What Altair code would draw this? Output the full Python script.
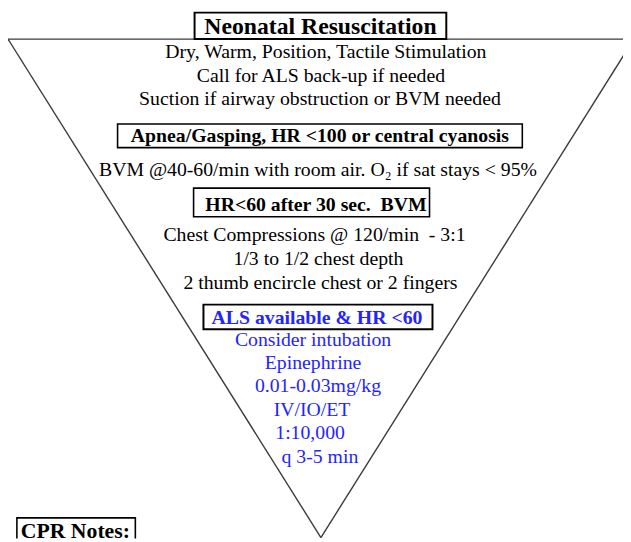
import altair as alt
import pandas as pd

# ---- content (diagram text) ----
title_text = ["Neonatal Resuscitation"]
bold_black = ["Apnea/Gasping, HR <100 or central cyanosis", "HR<60 after 30 sec.\u00a0 BVM"]
bold_blue = ["ALS available & HR <60"]
regular_black = [
    "Dry, Warm, Position, Tactile Stimulation",
    "Call for ALS back-up if needed",
    "Suction if airway obstruction or BVM needed",
    "BVM @40-60/min with room air. O\u2082 if sat stays < 95%",
    "Chest Compressions @ 120/min\u00a0 - 3:1",
    "1/3 to 1/2 chest depth",
    "2 thumb encircle chest or 2 fingers",
]
regular_blue = [
    "Consider intubation",
    "Epinephrine",
    "0.01-0.03mg/kg",
    "IV/IO/ET",
    "1:10,000",
    "q 3-5 min",
]
notes_text = ["CPR Notes:"]

# ---- layout (page pixel coordinates) ----
title_xy = [(324.5, 31)]
bold_black_xy = [(324, 140), (320, 210)]
bold_blue_xy = [(321, 325)]
regular_black_xy = [(330, 55), (325, 79), (324, 103), (322, 175),
                    (318.5, 241), (322.5, 265), (324.5, 289)]
regular_blue_xy = [(317, 347), (317, 370), (322, 394), (316, 418), (314, 441), (324, 465)]
notes_xy = [(21, 541)]

# triangle outline: corners
tri_x = [8, 325, 642]
tri_y = [36, 541, 36]

# boxes: x1, x2, y1, y2
box_x1 = [197, 119, 196, 206, 17]
box_x2 = [452, 529, 435, 438, 137]
box_y1 = [9, 122, 187, 305, 521]
box_y2 = [36, 146, 216, 330, 570]
box_w = [2.0, 1.6, 1.6, 2.0, 1.6]

X_DOM = [8, 631]
Y_DOM = [8, 542]

xs = alt.Scale(domain=X_DOM, nice=False, zero=False)
ys = alt.Scale(domain=Y_DOM, nice=False, zero=False, reverse=True)

seg = pd.DataFrame({
    "x": [tri_x[0], tri_x[1], tri_x[0]],
    "y": [tri_y[0], tri_y[1], tri_y[0]],
    "x2": [tri_x[1], tri_x[2], tri_x[2]],
    "y2": [tri_y[1], tri_y[2], tri_y[2]],
})
outline = alt.Chart(seg).mark_rule(color="#3a3a3a", strokeWidth=1.4, clip=True).encode(
    x=alt.X("x:Q", scale=xs, axis=None),
    y=alt.Y("y:Q", scale=ys, axis=None),
    x2="x2:Q",
    y2="y2:Q",
)

layers = [outline]
for i in range(len(box_x1)):
    bdf = pd.DataFrame({"x": [box_x1[i]], "x2": [box_x2[i]], "y": [box_y1[i]], "y2": [box_y2[i]]})
    layers.append(
        alt.Chart(bdf).mark_rect(fill="white", stroke="black", strokeWidth=box_w[i], clip=True).encode(
            x=alt.X("x:Q", scale=xs, axis=None),
            y=alt.Y("y:Q", scale=ys, axis=None),
            x2="x2:Q",
            y2="y2:Q",
        )
    )


def text_layer(labels, xy, size, weight, color, align="center"):
    df = pd.DataFrame({"label": labels, "x": [p[0] for p in xy], "y": [p[1] for p in xy]})
    return alt.Chart(df).mark_text(
        font="Liberation Serif", fontSize=size, fontWeight=weight, color=color,
        align=align, baseline="alphabetic", clip=True,
    ).encode(
        x=alt.X("x:Q", scale=xs, axis=None),
        y=alt.Y("y:Q", scale=ys, axis=None),
        text="label:N",
    )


layers += [
    text_layer(title_text, title_xy, 24, "bold", "#000000"),
    text_layer(bold_black, bold_black_xy, 20, "bold", "#000000"),
    text_layer(bold_blue, bold_blue_xy, 20, "bold", "#2424ff"),
    text_layer(regular_black, regular_black_xy, 20, "normal", "#000000"),
    text_layer(regular_blue, regular_blue_xy, 20, "normal", "#2424ff"),
    text_layer(notes_text, notes_xy, 22, "bold", "#000000", align="left"),
]

chart = alt.layer(*layers).properties(
    width=X_DOM[1] - X_DOM[0],
    height=Y_DOM[1] - Y_DOM[0],
    padding=0,
    autosize=alt.AutoSizeParams(type="none"),
    background="white",
).configure_view(stroke=None)

chart.save("out.html", embed_options={"renderer": "svg", "actions": False})
